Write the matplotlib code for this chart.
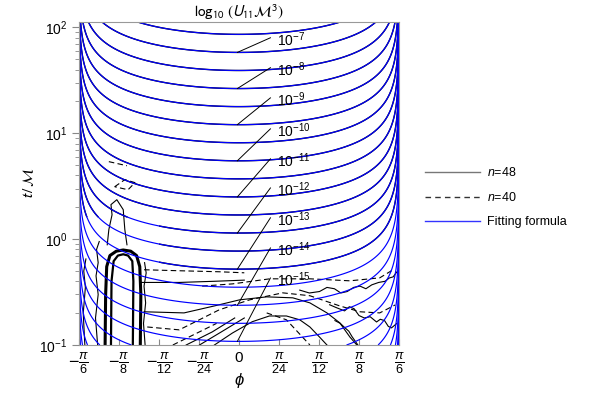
import numpy as np
import matplotlib
matplotlib.use('Agg')
import matplotlib.pyplot as plt
from matplotlib.lines import Line2D

plt.rcParams['font.family'] = ['Liberation Sans', 'DejaVu Sans']
plt.rcParams['mathtext.fontset'] = 'custom'
plt.rcParams['mathtext.rm'] = 'Liberation Sans'
plt.rcParams['mathtext.it'] = 'Liberation Sans:italic'
plt.rcParams['mathtext.bf'] = 'Liberation Sans:bold'

# fitting formula: log10(U11 M^3) = A + P*log10(t/M) + Q*log10(cos 3phi)
FIT_LOG_A = -12.17
FIT_P = 2.93
FIT_Q = 1.30
FIT_LEVELS = np.arange(-22.0, -6.0, 0.5)
NUM_MATCH_MIN = -13.0   # numerical runs follow the fit down to this level

# labelled contours
LABEL_LEVELS = [-7, -8, -9, -10, -11, -12, -13, -14, -15]
LABEL_T = [76.9, 40.1, 20.8, 10.6, 5.52, 2.93, 1.53, 0.794, 0.413]

# numerical contours where they leave the fit (phi in degrees, t in M)
N48_LINES = [
    ([-25.1, -25.0, -24.8, -24.2, -23.0, -21.7, -20.3, -19.2, -18.6, -18.4, -18.5],
     [0.1, 0.3, 0.55, 0.70, 0.77, 0.79, 0.77, 0.70, 0.55, 0.3, 0.1]),
    ([-24.0, -23.9, -23.5, -22.7, -21.7, -20.8, -20.0, -19.8, -19.9],
     [0.1, 0.4, 0.62, 0.70, 0.72, 0.70, 0.62, 0.4, 0.1]),
    ([-26.5, -26.9, -26.4, -26.8, -26.4, -26.7, -26.2],
     [0.1, 0.18, 0.3, 0.45, 0.6, 0.8, 0.95]),
    ([-17.6, -17.9, -17.5, -17.8, -17.4, -17.7],
     [0.1, 0.16, 0.25, 0.36, 0.48, 0.6]),
    ([-28.9, -29.2, -28.8, -29.1, -28.7],
     [0.1, 0.2, 0.35, 0.5, 0.65]),
    ([-18.3, -11.2, -4.6, 1.0],
     [0.39, 0.39, 0.40, 0.41]),
    ([-17.8, -10.3, -4.6, 0.1, 5.2, 10.1, 13.3, 16.5, 18.9, 20.8, 22.1],
     [0.206, 0.201, 0.234, 0.267, 0.285, 0.279, 0.250, 0.201, 0.162, 0.119, 0.1]),
    ([-4.6, -1.2, 2.5, 5.7, 8.9, 11.4, 13.3, 15.1, 16.5],
     [0.1, 0.13, 0.166, 0.188, 0.188, 0.173, 0.148, 0.119, 0.1]),
    ([11.4, 13.2, 15.1, 16.5, 17.9, 19.1, 20.3, 21.5, 22.7, 23.8, 24.9, 26.2, 27.4, 28.2, 28.9, 29.6],
     [0.33, 0.31, 0.32, 0.35, 0.34, 0.31, 0.32, 0.35, 0.36, 0.34, 0.37, 0.39, 0.40, 0.43, 0.44, 0.49]),
    ([17.0, 18.3, 19.8, 20.7, 21.6, 22.5, 23.5, 24.6, 25.8, 26.5, 27.3, 28.0, 28.6, 29.6],
     [0.24, 0.225, 0.21, 0.23, 0.22, 0.19, 0.18, 0.185, 0.165, 0.175, 0.17, 0.15, 0.145, 0.16]),
    ([18.0, 19.0, 19.9, 20.6, 21.2, 22.3],
     [0.17, 0.16, 0.145, 0.135, 0.12, 0.1]),
    ([-9.9, -5.0, -0.8],
     [0.1, 0.133, 0.18]),
    ([-7.4, -3.3, 1.0],
     [0.1, 0.133, 0.18]),
    ([-24.7, -24.4, -23.8, -24.0, -22.9, -21.7, -21.4, -21.0],
     [0.885, 1.23, 1.70, 2.12, 2.36, 1.90, 1.23, 0.885]),
]
N40_LINES = [
    ([-6.9, -1.2, 5.8, 13.3, 20.8, 26.4, 28.9],
     [0.36, 0.378, 0.422, 0.422, 0.404, 0.431, 0.514]),
    ([-17.2, -11.2, -3.7, 2.0, 8.2, 13.3, 18.9, 22.7, 26.4, 29.3],
     [0.148, 0.139, 0.215, 0.267, 0.311, 0.292, 0.234, 0.206, 0.201, 0.239]),
    ([5.2, 8.9, 11.9, 13.3],
     [0.201, 0.173, 0.119, 0.1]),
    ([-17.8, -11.2, -3.7, 1.0],
     [0.514, 0.503, 0.492, 0.481]),
    ([-23.3, -21.4, -19.5, -20.8, -23.3],
     [3.13, 3.65, 3.42, 2.93, 3.13]),
    ([-24.4, -21.0],
     [5.4, 4.94]),
    ([-12.4, -8.5, -4.2],
     [0.1, 0.125, 0.16]),
]

X_TICKS = [-np.pi / 6, -np.pi / 8, -np.pi / 12, -np.pi / 24, 0,
           np.pi / 24, np.pi / 12, np.pi / 8, np.pi / 6]
X_TICK_LABELS = [r'$-\frac{\pi}{6}$', r'$-\frac{\pi}{8}$', r'$-\frac{\pi}{12}$', r'$-\frac{\pi}{24}$', '0',
                 r'$\frac{\pi}{24}$', r'$\frac{\pi}{12}$', r'$\frac{\pi}{8}$', r'$\frac{\pi}{6}$']

fig = plt.figure(figsize=(5.92, 3.95), dpi=100)
ax = fig.add_axes([0.1334, 0.1266, 0.5405, 0.8177])

s = np.linspace(-0.9995, 0.9995, 1801)
phi = np.pi / 6 * np.sin(s * np.pi / 2)
logt = np.linspace(-1.0, 2.06, 500)
PHI, LOGT = np.meshgrid(phi, logt)
Z = FIT_LOG_A + FIT_P * LOGT + FIT_Q * np.log10(np.cos(3 * PHI))
T = 10 ** LOGT

# numerical runs lie under the fit where they agree
Zn = np.ma.masked_where((PHI < np.radians(-15)) & (T < 1.6), Z)
ax.contour(PHI, T, Zn, levels=FIT_LEVELS[FIT_LEVELS >= NUM_MATCH_MIN],
           colors='black', linewidths=1.0, linestyles='solid')

for xs, ts in N48_LINES[2:]:
    ax.plot(np.radians(xs), ts, color='black', lw=0.8)
for xs, ts in N40_LINES:
    ax.plot(np.radians(xs), ts, color='black', lw=0.8, ls=(0, (5, 3)))
ax.plot(np.radians(N48_LINES[0][0]), N48_LINES[0][1], color='black', lw=2.2)
ax.plot(np.radians(N48_LINES[1][0]), N48_LINES[1][1], color='black', lw=1.6)

ax.contour(PHI, T, Z, levels=FIT_LEVELS, colors='#0000ff', linewidths=0.85,
           linestyles='solid')

# contour labels with leader lines
for lev, lt in zip(LABEL_LEVELS, LABEL_T):
    tc = 10 ** ((lev - FIT_LOG_A) / FIT_P)
    ax.plot([np.radians(5.9), np.radians(-0.3)], [lt * 1.04, tc], color='black', lw=0.7)
    ax.text(np.radians(7.2), lt, r'$10^{%d}$' % lev, fontsize=10, va='center', ha='left')

ax.set_yscale('log')
ax.set_xlim(-np.pi / 6, np.pi / 6)
ax.set_ylim(0.1, 112.7)
ax.set_xticks(X_TICKS)
ax.set_xticklabels(X_TICK_LABELS, fontsize=13)
ax.get_xticklabels()[4].set_fontsize(11)
ax.tick_params(axis='x', direction='in', length=4, color='#888888', pad=4)
ax.tick_params(axis='y', which='major', direction='out', length=5, color='#888888', labelsize=10)
ax.tick_params(axis='y', which='minor', direction='out', length=3, color='#888888')
for sp in ax.spines.values():
    sp.set_color('#999999')
    sp.set_linewidth(0.8)

ax.set_title(r'$\log_{10}\,(U_{11}\mathcal{M}^3)$', fontsize=11, pad=2, math_fontfamily='stixsans')
ax.set_xlabel(r'$\phi$', fontsize=12)
ax.xaxis.set_label_coords(0.5, -0.08)
ax.set_ylabel(r'$t\,/\,\mathcal{M}$', fontsize=11, math_fontfamily='stixsans')
ax.yaxis.set_label_coords(-0.134, 0.5)

handles = [Line2D([], [], color='#777777', lw=1.0),
           Line2D([], [], color='#333333', lw=1.0, ls=(0, (4, 3))),
           Line2D([], [], color='#3333ff', lw=1.0)]
fig.legend(handles, [r'$n$=48', r'$n$=40', 'Fitting formula'], loc='upper left',
           bbox_to_anchor=(0.707, 0.595), frameon=False, fontsize=9,
           handlelength=4.4, handletextpad=0.6, labelspacing=0.95, borderpad=0)

fig.savefig('out.png', dpi=100)
